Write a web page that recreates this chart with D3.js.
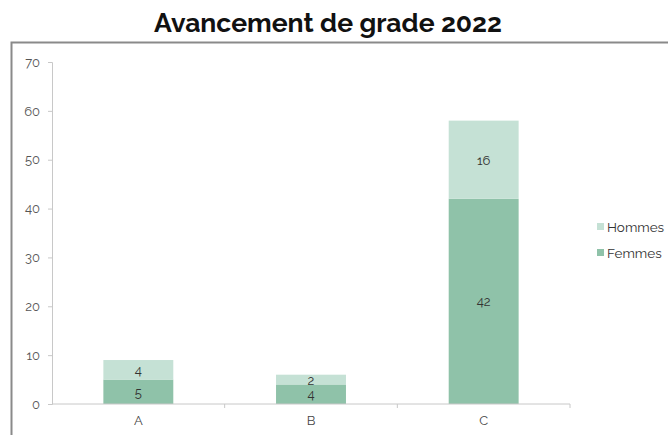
<!DOCTYPE html>
<html><head><meta charset="utf-8">
<script src="https://cdn.jsdelivr.net/npm/d3@7"></script>
<style>body{margin:0;background:#fff;}svg{display:block;}</style>
</head><body>
<svg id="chart" width="668" height="435"></svg>
<script>
const categories = ["A", "B", "C"];
const femmes = [5, 4, 42];
const hommes = [4, 2, 16];
const seriesNames = ["Femmes", "Hommes"];
const yTicks = [0, 10, 20, 30, 40, 50, 60, 70];
const title = "Avancement de grade 2022";

const colors = {Femmes: "#8fc2a9", Hommes: "#c5e1d5"};
const svg = d3.select("#chart");
const font = "Raleway, Lato, 'Open Sans', sans-serif";

// outer frame
svg.append("path").attr("d", "M11.5,436 V42.5 H668").attr("fill", "none").attr("stroke", "#8a8a8a").attr("stroke-width", 2);

svg.append("text").attr("x", 328).attr("y", 32).attr("text-anchor", "middle")
  .attr("font-family", font).attr("font-weight", "bold").attr("font-size", 26.5).attr("fill", "#111").text(title);

const x = d3.scaleBand().domain(categories).range([52, 570]).paddingInner(0.595).paddingOuter(0.2975);
const y = d3.scaleLinear().domain([0, 70]).range([404, 62]);

const data = categories.map((c, i) => ({cat: c, Femmes: femmes[i], Hommes: hommes[i]}));
const stacked = d3.stack().keys(seriesNames)(data);

const g = svg.append("g");
stacked.forEach(s => {
  g.selectAll(null).data(s).enter().append("rect")
    .attr("x", d => x(d.data.cat)).attr("width", x.bandwidth())
    .attr("y", d => y(d[1])).attr("height", d => y(d[0]) - y(d[1]))
    .attr("fill", colors[s.key]);
  g.selectAll(null).data(s).enter().append("text")
    .attr("x", d => x(d.data.cat) + x.bandwidth() / 2)
    .attr("y", d => (y(d[0]) + y(d[1])) / 2 + 5)
    .attr("text-anchor", "middle").attr("font-family", font).attr("font-size", 13).attr("fill", "#333")
    .text(d => d[1] - d[0]);
});

// y axis
const yAxis = svg.append("g").attr("transform", "translate(52,0)")
  .call(d3.axisLeft(y).tickValues(yTicks).tickSize(4).tickPadding(8));
yAxis.select(".domain").attr("stroke", "#c8c8c8");
yAxis.selectAll(".tick line").attr("stroke", "#c8c8c8");
yAxis.selectAll("text").attr("font-family", font).attr("font-size", 13).attr("fill", "#555");

// x axis
const xAxis = svg.append("g").attr("transform", "translate(0,404)")
  .call(d3.axisBottom(x).tickSize(0).tickPadding(12));
xAxis.select(".domain").attr("stroke", "#c8c8c8").attr("d", "M52,0H570");
xAxis.selectAll("text").attr("font-family", font).attr("font-size", 13).attr("fill", "#444");
xAxis.selectAll(".sep").data(categories).enter().append("line")
  .attr("x1", d => x(d) + x.bandwidth() + x.step() * x.paddingInner() / 2)
  .attr("x2", d => x(d) + x.bandwidth() + x.step() * x.paddingInner() / 2)
  .attr("y1", 0).attr("y2", 4).attr("stroke", "#c8c8c8");

// legend
const legend = svg.append("g");
["Hommes", "Femmes"].forEach((k, i) => {
  const ly = 227 + i * 26;
  legend.append("rect").attr("x", 597).attr("y", ly - 4).attr("width", 7).attr("height", 7).attr("fill", colors[k]);
  legend.append("text").attr("x", 607).attr("y", ly + 4.5).attr("font-family", font).attr("font-size", 13.5).attr("fill", "#333").text(k);
});
</script>
</body></html>
